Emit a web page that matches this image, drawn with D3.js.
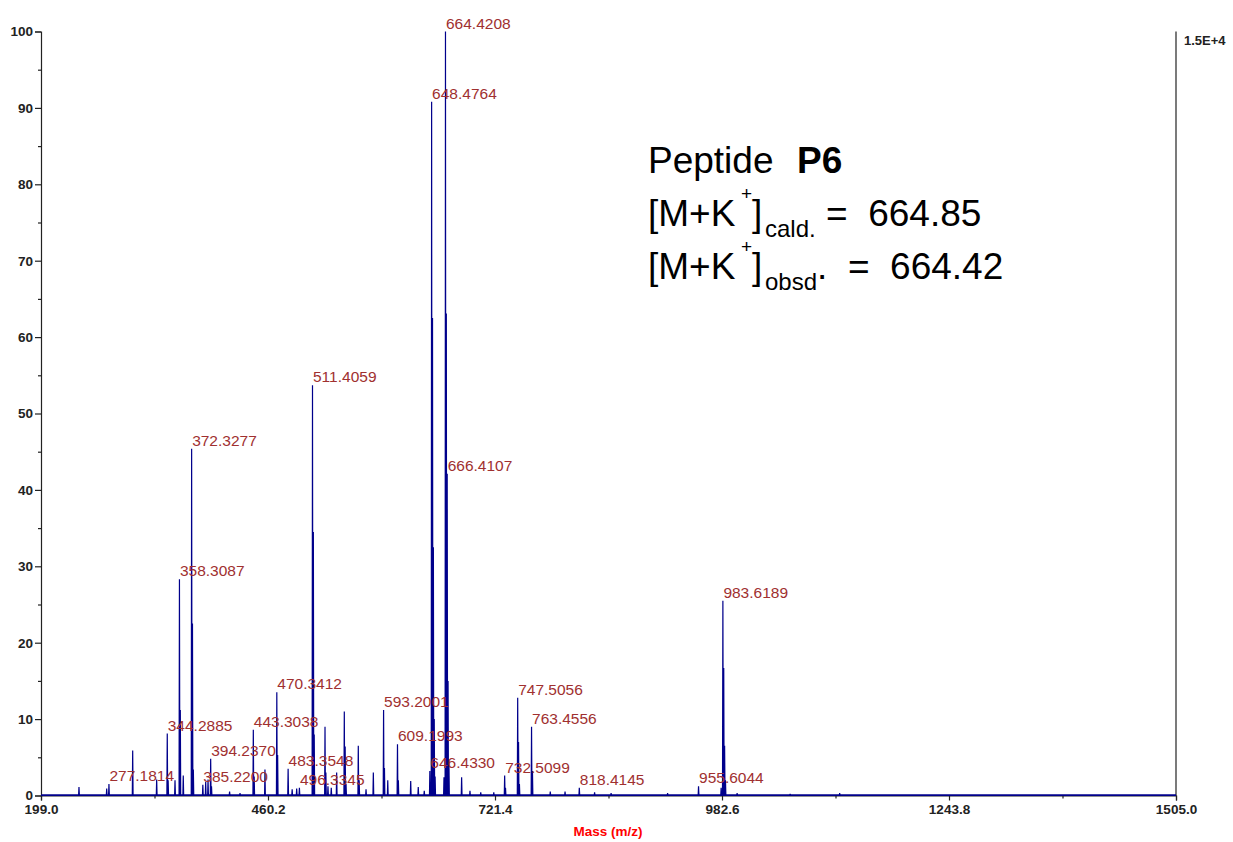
<!DOCTYPE html>
<html>
<head>
<meta charset="utf-8">
<script src="https://cdn.jsdelivr.net/npm/d3@7"></script>
<style>
  body { margin: 0; background: #fff; }
  svg { display: block; font-family: Arial, "Liberation Sans", sans-serif; }
</style>
</head>
<body>
<svg width="1233" height="842"></svg>
<script>
// peak list (m/z, relative intensity %)
var peakMz = [242.7, 274.6, 277.1814, 304.5, 332.1, 344.2885, 345.3, 353.2, 358.3087, 359.3, 362.7,
    372.3277, 373.3, 374.3, 385.2200, 388.5, 391.2, 394.2370, 395.2, 416.0, 428.0, 443.3038, 444.3,
    456.7, 470.3412, 471.3, 483.3548, 488.0, 493.2, 496.3345, 511.4059, 512.4, 513.4, 525.8, 526.8,
    529.2, 533.0, 539.2, 548.0, 549.0, 550.0, 564.1, 565.1, 573.0, 581.4, 593.2001, 594.2, 598.0,
    609.1993, 610.2, 624.4, 633.1, 640.0, 646.4330, 648.4764, 649.5, 650.5, 651.5, 652.5, 662.7,
    664.4208, 665.4, 666.4107, 667.4, 668.4, 683.0, 692.6, 705.0, 720.0, 732.5099, 733.5, 747.5056,
    748.5, 749.5, 763.4556, 764.5, 785.0, 802.0, 818.4145, 836.0, 855.0, 920.0, 955.6044, 981.6,
    983.6189, 984.6, 985.6, 986.6, 1000.0, 1061.0, 1118.0]
var peakInt = [1.1, 0.9, 1.5, 5.9, 2.1, 8.1, 2.0, 2.0, 28.3, 11.2, 2.6,
    45.4, 22.5, 3.4, 1.4, 1.8, 2.1, 4.8, 1.2, 0.5, 0.3, 8.6, 2.5,
    3.4, 13.5, 5.3, 3.5, 0.8, 0.9, 1.0, 53.7, 34.5, 8.0, 9.0, 3.0,
    1.2, 1.0, 3.0, 11.0, 6.4, 1.5, 6.5, 2.0, 0.8, 3.0, 11.2, 3.6, 2.0,
    6.7, 2.0, 1.9, 1.1, 0.6, 3.2, 90.8, 62.5, 32.5, 10.0, 2.5, 2.4,
    100, 63.1, 42.1, 15.0, 4.5, 2.4, 0.6, 0.4, 0.4, 2.6, 1.0, 12.8,
    7.0, 1.5, 9.0, 3.2, 0.5, 0.5, 1.0, 0.4, 0.3, 0.3, 1.2, 1.0,
    25.5, 16.7, 6.5, 2.0, 0.3, 0.2, 0.3]

var labelMz = [277.1814, 344.2885, 358.3087, 372.3277, 385.2200, 394.2370, 443.3038, 470.3412,
    483.3548, 496.3345, 511.4059, 593.2001, 609.1993, 646.4330, 648.4764, 664.4208, 666.4107,
    732.5099, 747.5056, 763.4556, 818.4145, 955.6044, 983.6189]

var xTicks = [199.0, 460.2, 721.4, 982.6, 1243.8, 1505.0]
var xMinorTicks = [329.6, 590.8, 852.0, 1113.2, 1374.4]
var yTicks = [0, 10, 20, 30, 40, 50, 60, 70, 80, 90, 100]
var yMinorTicks = [5, 15, 25, 35, 45, 55, 65, 75, 85, 95]

var svg = d3.select('svg')

var x = d3.scaleLinear().domain([199, 1505]).range([41, 1176]),
    y = d3.scaleLinear().domain([0, 100]).range([795.5, 31.5])

// axes
svg.append('g')
    .attr('transform', 'translate(0,' + y(0) + ')')
    .call(d3.axisBottom(x).tickValues(xTicks).tickSize(5).tickPadding(4).tickFormat(d3.format('.1f')))
svg.append('g')
    .attr('transform', 'translate(0,' + y(0) + ')')
    .call(d3.axisBottom(x).tickValues(xMinorTicks).tickSize(3).tickFormat(''))
    .select('.domain').remove()

svg.append('g')
    .attr('transform', 'translate(' + x(199) + ',0)')
    .call(d3.axisLeft(y).tickValues(yTicks).tickSize(6).tickPadding(2))
svg.append('g')
    .attr('transform', 'translate(' + x(199) + ',0)')
    .call(d3.axisLeft(y).tickValues(yMinorTicks).tickSize(3).tickFormat(''))
    .select('.domain').remove()

svg.selectAll('.domain').attr('stroke', '#222').attr('stroke-width', 1.2)
svg.selectAll('.tick line').attr('stroke', '#222').attr('stroke-width', 1.2)
svg.selectAll('.tick text')
    .attr('fill', '#222')
    .style('font-size', '13.5px')
    .style('font-weight', 'bold')
    .style('font-family', 'Arial, "Liberation Sans", sans-serif')

// right frame line + scale
svg.append('line')
    .attr('x1', x(1505)).attr('x2', x(1505))
    .attr('y1', y(100)).attr('y2', y(0))
    .attr('stroke', '#222').attr('stroke-width', 1.2)
svg.append('text')
    .attr('x', x(1505) + 8).attr('y', y(100) + 13)
    .attr('fill', '#222')
    .style('font-size', '13px').style('font-weight', 'bold')
    .text('1.5E+4')

// spectrum profile
var peaks = peakMz.map((m, i) => ({mz: m, h: peakInt[i]})).sort((a, b) => a.mz - b.mz)
var pts = [[199, 0]]
peaks.forEach(p => {
    pts.push([p.mz - 0.45, 0], [p.mz, p.h], [p.mz + 0.45, 0])
})
pts.push([1505, 0])

svg.append('path')
    .datum(pts)
    .attr('fill', 'none')
    .attr('stroke', '#00008b')
    .attr('stroke-width', 1.2)
    .attr('d', d3.line().x(d => x(d[0])).y(d => y(d[1])))

svg.append('line')
    .attr('x1', x(199)).attr('x2', x(1505))
    .attr('y1', y(0) - 0.5).attr('y2', y(0) - 0.5)
    .attr('stroke', '#00008b').attr('stroke-width', 1.4)

// peak labels
svg.append('g').selectAll('text')
    .data(labelMz)
    .enter().append('text')
    .attr('x', d => x(d) + 0.5)
    .attr('y', d => y(peakInt[peakMz.indexOf(d)]) - 3)
    .attr('fill', '#a03030')
    .style('font-size', '15.5px')
    .text(d => d.toFixed(4))

// x axis title
svg.append('text')
    .attr('x', 608).attr('y', 836)
    .attr('text-anchor', 'middle')
    .attr('fill', '#ff0000')
    .style('font-size', '13.5px').style('font-weight', 'bold')
    .text('Mass (m/z)')

// annotation
var note = svg.append('g').style('font-size', '37px').attr('fill', '#000')

var l1 = note.append('text').attr('x', 648).attr('y', 172.5).attr('xml:space', 'preserve')
l1.append('tspan').text('Peptide  ')
l1.append('tspan').attr('x', 797).style('font-weight', 'bold').text('P6')

function ionLine(yBase, sub, dot, value) {
    var t = note.append('text').attr('x', 648).attr('y', yBase).attr('xml:space', 'preserve')
    t.append('tspan').text('[M+K')
    t.append('tspan').attr('x', 741).attr('y', yBase - 26).style('font-size', '19px').text('+')
    t.append('tspan').attr('x', 752).attr('y', yBase).text(']')
    t.append('tspan').attr('x', 765).attr('y', yBase + 11).style('font-size', '24px').text(sub)
    t.append('tspan').attr('y', yBase).text(dot + value)
}
ionLine(225.7, 'cald.', '', ' =  664.85')
ionLine(279.2, 'obsd', '.', '  =  664.42')
</script>
</body>
</html>
